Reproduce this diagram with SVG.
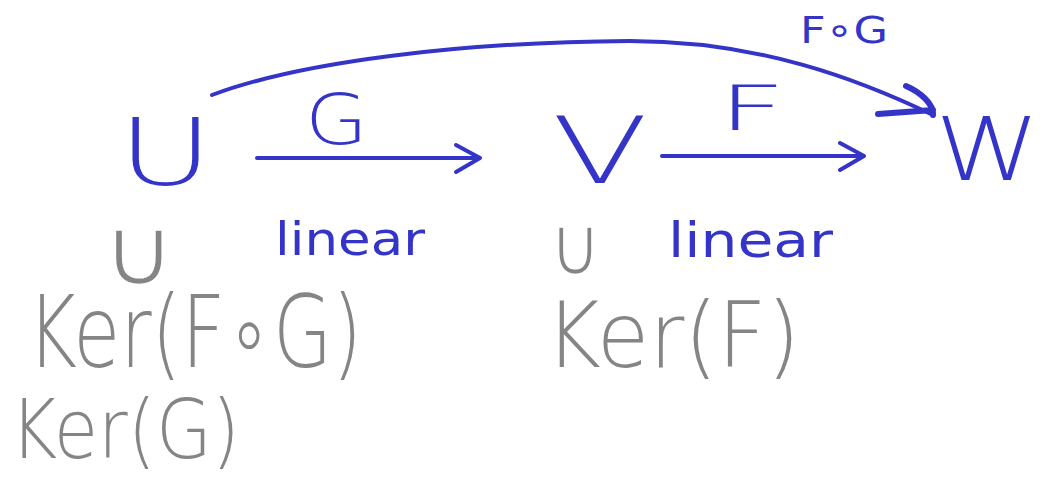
<svg xmlns="http://www.w3.org/2000/svg" width="1043" height="483" viewBox="0 0 1043 483">
<style>
.b{fill:#3434c8;font-family:"DejaVu Sans","Liberation Sans",sans-serif;font-weight:300;}
.bs{fill:#3434c8;font-family:"DejaVu Sans","Liberation Sans",sans-serif;font-weight:400;}
.g{fill:#858585;font-family:"DejaVu Sans","Liberation Sans",sans-serif;font-weight:300;}
.cup{fill:#858585;font-family:"DejaVu Sans","Liberation Sans",sans-serif;text-anchor:middle;stroke:#ffffff;stroke-width:2.6;paint-order:fill;}
.ln{fill:none;stroke:#3434c8;stroke-width:4;stroke-linecap:round;stroke-linejoin:round;}
</style>
<rect width="1043" height="483" fill="#ffffff"/>
<g id="connectors">
<path class="ln" d="M257,158 L480,158 M456,145 L480,158 L456,172"/>
<path class="ln" d="M662,156 L864,156 M840,143 L864,156 L840,170"/>
<path class="ln" d="M212,95 C300,62 460,42 630,41 C760,41 860,80 933,115"/>
<path class="ln" d="M878,114 L933,110 M906,86 C920,92 934,104 933,115" style="stroke-width:6"/>
</g>
<g id="node-U"><text class="b" x="118" y="185" font-size="92" textLength="95" lengthAdjust="spacingAndGlyphs">U</text></g>
<g id="node-V"><text class="b" x="552" y="183" font-size="92" textLength="96" lengthAdjust="spacingAndGlyphs">V</text></g>
<g id="node-W"><text class="b" x="935" y="180" font-size="88" textLength="105" lengthAdjust="spacingAndGlyphs">W</text></g>
<g id="label-G"><text class="b" x="305" y="144" font-size="70" textLength="63" lengthAdjust="spacingAndGlyphs">G</text></g>
<g id="label-F"><text class="b" x="718" y="130" font-size="62" textLength="68" lengthAdjust="spacingAndGlyphs">F</text></g>
<g id="label-FoG"><text class="bs" x="800" y="43" font-size="38" textLength="88" lengthAdjust="spacingAndGlyphs">F∘G</text></g>
<g id="label-linear-G"><text class="bs" x="275" y="255" font-size="46" textLength="150" lengthAdjust="spacingAndGlyphs">linear</text></g>
<g id="label-linear-F"><text class="bs" x="668" y="257" font-size="48" textLength="165" lengthAdjust="spacingAndGlyphs">linear</text></g>
<g id="sub-U"><text class="cup" transform="translate(139,285) scale(1.05,1)" font-size="96">∪</text></g>
<g id="ker-FoG"><text class="g" x="27" y="367" font-size="100" textLength="335" lengthAdjust="spacingAndGlyphs">Ker(F∘G)</text></g>
<g id="ker-G"><text class="g" x="10" y="458" font-size="82" textLength="230" lengthAdjust="spacingAndGlyphs">Ker(G)</text></g>
<g id="sub-V"><text class="cup" transform="translate(575,275) scale(0.85,1)" font-size="84">∪</text></g>
<g id="ker-F"><text class="g" x="545" y="367" font-size="90" textLength="255" lengthAdjust="spacingAndGlyphs">Ker(F)</text></g>
</svg>
